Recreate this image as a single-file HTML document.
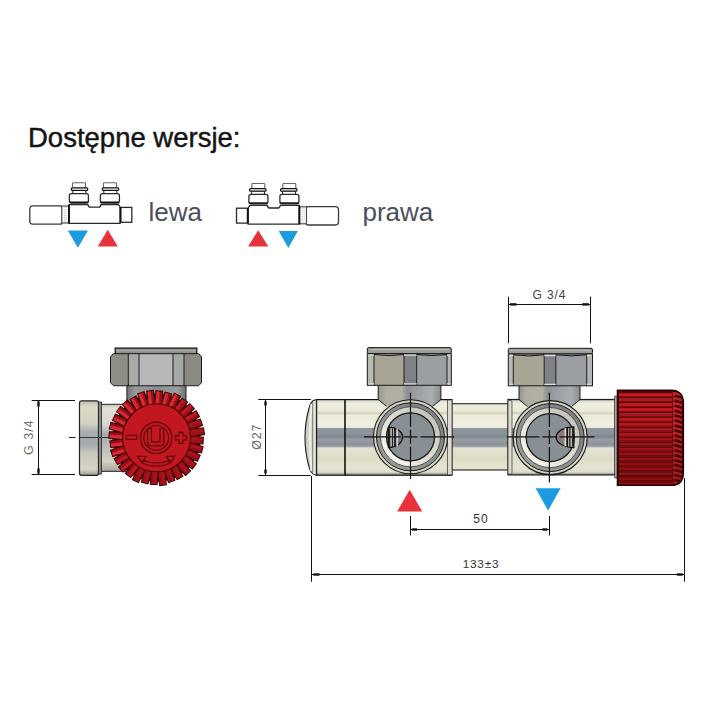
<!DOCTYPE html>
<html><head><meta charset="utf-8">
<style>
html,body{margin:0;padding:0;background:#fff;width:720px;height:720px;overflow:hidden}
svg{position:absolute;left:0;top:0}
text{font-family:"Liberation Sans",sans-serif}
</style></head><body>
<svg width="720" height="720" viewBox="0 0 720 720">
<defs>
<linearGradient id="chrome" gradientUnits="userSpaceOnUse" x1="0" y1="399.5" x2="0" y2="475.3">
  <stop offset="0" stop-color="#666"/>
  <stop offset="0.02" stop-color="#dcdcd2"/>
  <stop offset="0.05" stop-color="#eeeedc"/>
  <stop offset="0.15" stop-color="#ebeadb"/>
  <stop offset="0.18" stop-color="#d4d2bc"/>
  <stop offset="0.21" stop-color="#eceada"/>
  <stop offset="0.33" stop-color="#efeee0"/>
  <stop offset="0.37" stop-color="#e8e8de"/>
  <stop offset="0.376" stop-color="#8e979d"/>
  <stop offset="0.45" stop-color="#8a949a"/>
  <stop offset="0.49" stop-color="#7e878e"/>
  <stop offset="0.53" stop-color="#969ea4"/>
  <stop offset="0.6" stop-color="#8a9298"/>
  <stop offset="0.62" stop-color="#a4a8a8"/>
  <stop offset="0.64" stop-color="#e4e4d4"/>
  <stop offset="0.78" stop-color="#dddcc6"/>
  <stop offset="0.88" stop-color="#e6e4d0"/>
  <stop offset="0.96" stop-color="#dedcca"/>
  <stop offset="1" stop-color="#666"/>
</linearGradient>
<linearGradient id="chrome2" x1="0" y1="0" x2="0" y2="1">
  <stop offset="0" stop-color="#bdbcae"/>
  <stop offset="0.08" stop-color="#dcdac6"/>
  <stop offset="0.3" stop-color="#d4d2c0"/>
  <stop offset="0.42" stop-color="#a8adb0"/>
  <stop offset="0.58" stop-color="#a4a9ac"/>
  <stop offset="0.7" stop-color="#c8c7ba"/>
  <stop offset="0.92" stop-color="#d6d4c4"/>
  <stop offset="1" stop-color="#9a9a90"/>
</linearGradient>
<linearGradient id="nutg" x1="0" y1="0" x2="1" y2="0">
  <stop offset="0" stop-color="#b8b6a8"/>
  <stop offset="0.08" stop-color="#b8b6a8"/>
  <stop offset="0.081" stop-color="#a8a596"/>
  <stop offset="0.44" stop-color="#a4a294"/>
  <stop offset="0.45" stop-color="#6c7074"/>
  <stop offset="0.58" stop-color="#8a8e92"/>
  <stop offset="0.6" stop-color="#9ca0a4"/>
  <stop offset="0.92" stop-color="#979ba0"/>
  <stop offset="0.921" stop-color="#b4b6b8"/>
  <stop offset="1" stop-color="#b4b6b8"/>
</linearGradient>
<linearGradient id="neckg" x1="0" y1="0" x2="1" y2="0">
  <stop offset="0" stop-color="#96968c"/>
  <stop offset="0.12" stop-color="#b0aea2"/>
  <stop offset="0.38" stop-color="#b2b0a4"/>
  <stop offset="0.46" stop-color="#8c9094"/>
  <stop offset="0.6" stop-color="#9a9ea2"/>
  <stop offset="0.85" stop-color="#aaaeb0"/>
  <stop offset="1" stop-color="#8c8c8c"/>
</linearGradient>
<linearGradient id="neckdark" x1="0" y1="0" x2="1" y2="0">
  <stop offset="0" stop-color="#707274"/>
  <stop offset="0.15" stop-color="#9a9c9c"/>
  <stop offset="0.5" stop-color="#8a8c8e"/>
  <stop offset="0.85" stop-color="#9c9e9e"/>
  <stop offset="1" stop-color="#6c6e70"/>
</linearGradient>
<linearGradient id="pipeL" x1="0" y1="0" x2="0" y2="1">
  <stop offset="0" stop-color="#c8c6bc"/>
  <stop offset="0.06" stop-color="#e2e0d4"/>
  <stop offset="0.3" stop-color="#d8d8d0"/>
  <stop offset="0.45" stop-color="#a4a8aa"/>
  <stop offset="0.6" stop-color="#b8bab8"/>
  <stop offset="0.85" stop-color="#d4d2c6"/>
  <stop offset="1" stop-color="#a8a69c"/>
</linearGradient>
<linearGradient id="ringlight" x1="0.15" y1="0.85" x2="0.85" y2="0.15">
  <stop offset="0" stop-color="#f4f4ec"/>
  <stop offset="0.5" stop-color="#dcdcd0"/>
  <stop offset="1" stop-color="#c4c4b8"/>
</linearGradient>
<linearGradient id="ringgrey" x1="0.15" y1="0.85" x2="0.85" y2="0.15">
  <stop offset="0" stop-color="#9a9c9c"/>
  <stop offset="1" stop-color="#7e8082"/>
</linearGradient>
<linearGradient id="redg" x1="0" y1="0" x2="0" y2="1">
  <stop offset="0" stop-color="#8c0f12"/>
  <stop offset="0.2" stop-color="#c21a22"/>
  <stop offset="0.5" stop-color="#a8141a"/>
  <stop offset="0.8" stop-color="#b8181f"/>
  <stop offset="1" stop-color="#7a0c10"/>
</linearGradient>
</defs>

<text x="28" y="147" font-size="27.5" fill="#141414" stroke="#141414" stroke-width="0.45">Dostępne wersje:</text>
<text x="148.5" y="221" font-size="26" fill="#4a4e5a">lewa</text>
<text x="362.5" y="221" font-size="26" fill="#4a4e5a">prawa</text>
<g><path d="M60 205.8 H33 Q29.8 205.8 29.8 209 V221 Q29.8 224.2 33 224.2 H60 Q62.2 224.2 62.2 222 V208 Q62.2 205.8 60 205.8 Z" stroke="#3a3a3a" stroke-width="1.3" fill="#fff"/>
<rect x="61.8" y="206" width="6.8" height="17" stroke="#444" stroke-width="1.1" fill="#fff"/>
<line x1="64.2" y1="207" x2="64.2" y2="222" stroke="#aaa" stroke-width="0.8" stroke-dasharray="1 1"/>
<line x1="66.2" y1="207" x2="66.2" y2="222" stroke="#aaa" stroke-width="0.8" stroke-dasharray="1 1"/>
<path d="M69 204.6 H88 Q88.5 207.2 90 207.2 H99 Q100.5 207.2 100.8 204.6 H118.3 Q120.2 206 120.2 209 V223.3 H69 Z" stroke="#2a2a2a" stroke-width="1.3" fill="#fff"/>
<line x1="69" y1="205" x2="69" y2="223.3" stroke="#111" stroke-width="1.8"/>
<rect x="120.4" y="207.4" width="11.4" height="14.9" stroke="#2a2a2a" stroke-width="1.3" fill="#fff"/>
<line x1="120.6" y1="207.4" x2="120.6" y2="222.3" stroke="#111" stroke-width="1.8"/>
<rect x="72.5" y="182.7" width="13" height="5.6" rx="0.8" stroke="#666" stroke-width="1.1" fill="#fff"/>
<rect x="72.8" y="190" width="13" height="3.8" stroke="#333" stroke-width="1.1" fill="#fff"/>
<rect x="71.3" y="187.8" width="16.4" height="2.6" rx="1" stroke="#111" stroke-width="1.2" fill="#fff"/>
<rect x="69.4" y="193.6" width="19" height="9.4" rx="2" stroke="#2a2a2a" stroke-width="1.3" fill="#fff"/>
<line x1="70" y1="202.3" x2="88" y2="202.3" stroke="#111" stroke-width="1.6"/>
<rect x="103.5" y="182.7" width="13" height="5.6" rx="0.8" stroke="#666" stroke-width="1.1" fill="#fff"/>
<rect x="103.8" y="190" width="13" height="3.8" stroke="#333" stroke-width="1.1" fill="#fff"/>
<rect x="102.3" y="187.8" width="16.4" height="2.6" rx="1" stroke="#111" stroke-width="1.2" fill="#fff"/>
<rect x="100.4" y="193.6" width="19" height="9.4" rx="2" stroke="#2a2a2a" stroke-width="1.3" fill="#fff"/>
<line x1="101" y1="202.3" x2="119" y2="202.3" stroke="#111" stroke-width="1.6"/></g>
<g transform="translate(368.3,0.8) scale(-1,1)"><path d="M60 205.8 H33 Q29.8 205.8 29.8 209 V221 Q29.8 224.2 33 224.2 H60 Q62.2 224.2 62.2 222 V208 Q62.2 205.8 60 205.8 Z" stroke="#3a3a3a" stroke-width="1.3" fill="#fff"/>
<rect x="61.8" y="206" width="6.8" height="17" stroke="#444" stroke-width="1.1" fill="#fff"/>
<line x1="64.2" y1="207" x2="64.2" y2="222" stroke="#aaa" stroke-width="0.8" stroke-dasharray="1 1"/>
<line x1="66.2" y1="207" x2="66.2" y2="222" stroke="#aaa" stroke-width="0.8" stroke-dasharray="1 1"/>
<path d="M69 204.6 H88 Q88.5 207.2 90 207.2 H99 Q100.5 207.2 100.8 204.6 H118.3 Q120.2 206 120.2 209 V223.3 H69 Z" stroke="#2a2a2a" stroke-width="1.3" fill="#fff"/>
<line x1="69" y1="205" x2="69" y2="223.3" stroke="#111" stroke-width="1.8"/>
<rect x="120.4" y="207.4" width="11.4" height="14.9" stroke="#2a2a2a" stroke-width="1.3" fill="#fff"/>
<line x1="120.6" y1="207.4" x2="120.6" y2="222.3" stroke="#111" stroke-width="1.8"/>
<rect x="72.5" y="182.7" width="13" height="5.6" rx="0.8" stroke="#666" stroke-width="1.1" fill="#fff"/>
<rect x="72.8" y="190" width="13" height="3.8" stroke="#333" stroke-width="1.1" fill="#fff"/>
<rect x="71.3" y="187.8" width="16.4" height="2.6" rx="1" stroke="#111" stroke-width="1.2" fill="#fff"/>
<rect x="69.4" y="193.6" width="19" height="9.4" rx="2" stroke="#2a2a2a" stroke-width="1.3" fill="#fff"/>
<line x1="70" y1="202.3" x2="88" y2="202.3" stroke="#111" stroke-width="1.6"/>
<rect x="103.5" y="182.7" width="13" height="5.6" rx="0.8" stroke="#666" stroke-width="1.1" fill="#fff"/>
<rect x="103.8" y="190" width="13" height="3.8" stroke="#333" stroke-width="1.1" fill="#fff"/>
<rect x="102.3" y="187.8" width="16.4" height="2.6" rx="1" stroke="#111" stroke-width="1.2" fill="#fff"/>
<rect x="100.4" y="193.6" width="19" height="9.4" rx="2" stroke="#2a2a2a" stroke-width="1.3" fill="#fff"/>
<line x1="101" y1="202.3" x2="119" y2="202.3" stroke="#111" stroke-width="1.6"/></g>
<polygon points="67.8,230.5 88,230.5 77.9,247.8" fill="#1d9be0"/>
<polygon points="97.8,246.4 117.8,246.4 107.8,229.7" fill="#e8323c"/>
<polygon points="248.1,246.4 268.3,246.4 258.2,230.2" fill="#e8323c"/>
<polygon points="278.7,231.1 297.9,231.1 288.29999999999995,248" fill="#1d9be0"/>
<rect x="126.9" y="384" width="59.1" height="22" fill="url(#neckdark)" stroke="#222" stroke-width="1"/>
<rect x="115.2" y="348.1" width="81.6" height="6.599999999999966" fill="#8e8e8a" stroke="#1a1a1a" stroke-width="1.3"/>
<line x1="116.0" y1="350.6" x2="196.0" y2="350.6" stroke="#a8a8a4" stroke-width="1.5"/>
<clipPath id="nc110"><polygon points="113.5,353.7 198.5,353.7 201.5,356.7 201.5,382.75 198.5,385.75 113.5,385.75 110.5,382.75 110.5,356.7"/></clipPath>
<g clip-path="url(#nc110)">
<rect x="110.5" y="353.7" width="17.80000000000001" height="32.05000000000001" fill="#8e8e86"/>
<rect x="128.3" y="353.7" width="10.699999999999989" height="32.05000000000001" fill="#a9aba9"/>
<rect x="139" y="353.7" width="34" height="32.05000000000001" fill="#b6b8ba"/>
<rect x="173" y="353.7" width="11" height="32.05000000000001" fill="#a6a8a8"/>
<rect x="184" y="353.7" width="17.5" height="32.05000000000001" fill="#8a8a82"/>
</g>
<polygon points="113.5,353.7 198.5,353.7 201.5,356.7 201.5,382.75 198.5,385.75 113.5,385.75 110.5,382.75 110.5,356.7" fill="none" stroke="#1a1a1a" stroke-width="1"/>
<line x1="128.3" y1="353.7" x2="128.3" y2="385.75" stroke="#1a1a1a" stroke-width="1"/>
<line x1="139" y1="353.7" x2="139" y2="385.75" stroke="#1a1a1a" stroke-width="1"/>
<line x1="173" y1="353.7" x2="173" y2="385.75" stroke="#1a1a1a" stroke-width="1"/>
<line x1="184" y1="353.7" x2="184" y2="385.75" stroke="#1a1a1a" stroke-width="1"/>
<rect x="100" y="404.3" width="30" height="67" fill="url(#pipeL)" stroke="#222" stroke-width="1"/>
<rect x="79.5" y="400.9" width="19" height="74.4" rx="2" fill="url(#chrome2)" stroke="#222" stroke-width="1.2"/>
<rect x="98.5" y="402" width="3" height="72" fill="#8a8a84" stroke="#222" stroke-width="0.8"/>
<line x1="69" y1="437.5" x2="75.5" y2="437.5" stroke="#222" stroke-width="1"/>
<line x1="80" y1="437.5" x2="125" y2="437.5" stroke="#333" stroke-width="1"/>
<circle cx="156.5" cy="437.8" r="44" fill="#3a0304"/>
<polygon points="187.22,443.52 202.95,443.86 203.34,437.24 187.68,435.73" fill="#9c0e14" stroke="#3a0304" stroke-width="1.1"/>
<polygon points="189.42,440.13 202.63,440.91 202.81,437.80 189.63,436.63" fill="#a8121a"/>
<polygon points="185.51,449.40 201.41,452.95 203.08,446.53 187.48,441.85" fill="#9c0e14" stroke="#3a0304" stroke-width="1.1"/>
<polygon points="188.33,446.51 201.67,449.99 202.45,446.97 189.22,443.11" fill="#a8121a"/>
<polygon points="182.69,454.84 197.31,461.28 200.20,455.31 186.09,447.82" fill="#9c0e14" stroke="#3a0304" stroke-width="1.1"/>
<polygon points="186.02,452.55 198.14,458.43 199.50,455.62 187.55,449.39" fill="#a8121a"/>
<polygon points="178.86,459.62 192.28,469.04 196.28,463.76 183.57,453.40" fill="#9c0e14" stroke="#3a0304" stroke-width="1.1"/>
<polygon points="182.58,458.03 193.65,466.41 195.53,463.92 184.69,455.23" fill="#a8121a"/>
<polygon points="174.18,463.56 185.53,475.45 190.48,471.05 180.01,458.38" fill="#9c0e14" stroke="#3a0304" stroke-width="1.1"/>
<polygon points="178.13,462.73 187.38,473.14 189.71,471.06 180.75,460.40" fill="#a8121a"/>
<polygon points="168.81,466.52 177.11,479.52 182.83,476.17 175.54,462.57" fill="#9c0e14" stroke="#3a0304" stroke-width="1.1"/>
<polygon points="172.85,466.47 179.38,477.61 182.07,476.03 175.88,464.69" fill="#a8121a"/>
<polygon points="162.97,468.37 168.55,482.65 174.81,480.48 170.34,465.81" fill="#9c0e14" stroke="#3a0304" stroke-width="1.1"/>
<polygon points="166.94,469.11 171.14,481.22 174.09,480.20 170.26,467.96" fill="#a8121a"/>
<polygon points="156.88,469.04 159.77,485.61 166.33,484.70 164.61,467.97" fill="#9c0e14" stroke="#3a0304" stroke-width="1.1"/>
<polygon points="160.64,470.54 162.60,484.71 165.69,484.29 164.11,470.06" fill="#a8121a"/>
<polygon points="150.78,468.52 150.44,484.29 157.06,484.68 158.57,468.98" fill="#9c0e14" stroke="#3a0304" stroke-width="1.1"/>
<polygon points="154.17,470.72 153.39,483.96 156.50,484.15 157.67,470.93" fill="#a8121a"/>
<polygon points="144.90,466.81 141.50,482.17 147.91,483.84 152.45,468.78" fill="#9c0e14" stroke="#3a0304" stroke-width="1.1"/>
<polygon points="147.79,469.63 144.45,482.43 147.47,483.21 151.19,470.52" fill="#a8121a"/>
<polygon points="139.46,463.99 132.53,479.62 138.49,482.52 146.48,467.39" fill="#9c0e14" stroke="#3a0304" stroke-width="1.1"/>
<polygon points="141.75,467.32 135.38,480.45 138.19,481.81 144.91,468.85" fill="#a8121a"/>
<polygon points="134.68,460.16 125.40,473.39 130.69,477.39 140.90,464.87" fill="#9c0e14" stroke="#3a0304" stroke-width="1.1"/>
<polygon points="136.27,463.88 128.04,474.76 130.52,476.64 139.07,465.99" fill="#bc1a22"/>
<polygon points="130.74,455.48 118.56,467.08 122.97,472.03 135.92,461.31" fill="#9c0e14" stroke="#3a0304" stroke-width="1.1"/>
<polygon points="131.57,459.43 120.88,468.93 122.95,471.26 133.90,462.05" fill="#bc1a22"/>
<polygon points="127.78,450.11 114.14,458.79 117.49,464.51 131.73,456.84" fill="#9c0e14" stroke="#3a0304" stroke-width="1.1"/>
<polygon points="127.83,454.15 116.05,461.06 117.63,463.75 129.61,457.18" fill="#bc1a22"/>
<polygon points="125.93,444.27 110.58,450.21 112.75,456.48 128.49,451.64" fill="#9c0e14" stroke="#3a0304" stroke-width="1.1"/>
<polygon points="125.19,448.24 112.01,452.81 113.04,455.76 126.34,451.56" fill="#d42a32"/>
<polygon points="125.26,438.18 109.91,440.90 110.82,447.46 126.33,445.91" fill="#9c0e14" stroke="#3a0304" stroke-width="1.1"/>
<polygon points="123.76,441.94 110.81,443.73 111.24,446.82 124.24,445.41" fill="#d42a32"/>
<polygon points="125.78,432.08 109.33,431.70 108.94,438.32 125.32,439.87" fill="#9c0e14" stroke="#3a0304" stroke-width="1.1"/>
<polygon points="123.58,435.47 109.66,434.65 109.48,437.76 123.37,438.97" fill="#d42a32"/>
<polygon points="127.49,426.20 111.03,422.51 109.35,428.92 125.52,433.75" fill="#9c0e14" stroke="#3a0304" stroke-width="1.1"/>
<polygon points="124.67,429.09 110.77,425.46 109.98,428.48 123.78,432.49" fill="#d42a32"/>
<polygon points="130.31,420.76 115.44,414.20 112.55,420.17 126.91,427.78" fill="#9c0e14" stroke="#3a0304" stroke-width="1.1"/>
<polygon points="126.98,423.05 114.61,417.05 113.25,419.86 125.45,426.21" fill="#d42a32"/>
<polygon points="134.14,415.98 120.52,406.41 116.52,411.69 129.43,422.20" fill="#9c0e14" stroke="#3a0304" stroke-width="1.1"/>
<polygon points="130.42,417.57 119.15,409.04 117.27,411.53 128.31,420.37" fill="#d42a32"/>
<polygon points="138.82,412.04 127.42,400.08 122.46,404.49 132.99,417.22" fill="#9c0e14" stroke="#3a0304" stroke-width="1.1"/>
<polygon points="134.87,412.87 125.57,402.40 123.23,404.47 132.25,415.20" fill="#d42a32"/>
<polygon points="144.19,409.08 135.89,396.08 130.17,399.43 137.46,413.03" fill="#9c0e14" stroke="#3a0304" stroke-width="1.1"/>
<polygon points="140.15,409.13 133.62,397.99 130.93,399.57 137.12,410.91" fill="#d42a32"/>
<polygon points="150.03,407.23 144.02,391.68 137.75,393.85 142.66,409.79" fill="#9c0e14" stroke="#3a0304" stroke-width="1.1"/>
<polygon points="146.06,406.49 141.42,393.11 138.47,394.13 142.74,407.64" fill="#d42a32"/>
<polygon points="156.12,406.56 153.29,390.43 146.73,391.34 148.39,407.63" fill="#9c0e14" stroke="#3a0304" stroke-width="1.1"/>
<polygon points="152.36,405.06 150.47,391.32 147.37,391.75 148.89,405.54" fill="#d42a32"/>
<polygon points="162.22,407.08 162.57,391.23 155.95,390.84 154.43,406.62" fill="#9c0e14" stroke="#3a0304" stroke-width="1.1"/>
<polygon points="158.83,404.88 159.62,391.56 156.50,391.38 155.33,404.67" fill="#d42a32"/>
<polygon points="168.10,408.79 171.41,393.78 165.00,392.11 160.55,406.82" fill="#9c0e14" stroke="#3a0304" stroke-width="1.1"/>
<polygon points="165.21,405.97 168.46,393.53 165.44,392.74 161.81,405.08" fill="#d42a32"/>
<polygon points="173.54,411.61 180.37,396.19 174.40,393.29 166.52,408.21" fill="#9c0e14" stroke="#3a0304" stroke-width="1.1"/>
<polygon points="171.25,408.28 177.52,395.36 174.71,394.00 168.09,406.75" fill="#d42a32"/>
<polygon points="178.32,415.44 187.60,402.21 182.32,398.20 172.10,410.73" fill="#9c0e14" stroke="#3a0304" stroke-width="1.1"/>
<polygon points="176.73,411.72 184.97,400.84 182.48,398.96 173.93,409.61" fill="#bc1a22"/>
<polygon points="182.26,420.12 194.28,408.66 189.87,403.71 177.08,414.29" fill="#9c0e14" stroke="#3a0304" stroke-width="1.1"/>
<polygon points="181.43,416.17 191.96,406.81 189.89,404.48 179.10,413.55" fill="#bc1a22"/>
<polygon points="185.22,425.49 199.49,416.45 196.13,410.73 181.27,418.76" fill="#9c0e14" stroke="#3a0304" stroke-width="1.1"/>
<polygon points="185.17,421.45 197.58,414.18 196.00,411.49 183.39,418.42" fill="#bc1a22"/>
<polygon points="187.07,431.33 202.55,425.34 200.37,419.08 184.51,423.96" fill="#9c0e14" stroke="#3a0304" stroke-width="1.1"/>
<polygon points="187.81,427.36 201.11,422.74 200.09,419.79 186.66,424.04" fill="#a8121a"/>
<polygon points="187.74,437.42 204.46,434.51 203.55,427.95 186.67,429.69" fill="#9c0e14" stroke="#3a0304" stroke-width="1.1"/>
<polygon points="189.24,433.66 203.56,431.68 203.14,428.59 188.76,430.19" fill="#a8121a"/>
<circle cx="156.5" cy="437.8" r="34" fill="#c2171e" stroke="#4a0406" stroke-width="1.1"/>
<circle cx="156.2" cy="437.9" r="15.7" fill="none" stroke="#5a0709" stroke-width="1.2"/>
<circle cx="156.2" cy="437.9" r="12.4" fill="none" stroke="#5a0709" stroke-width="1.1"/>
<path d="M147.6 428.5 H151.5 V441.8 H160 V428.5 H163.8 V443 Q163.8 445.7 161 445.7 H150.4 Q147.6 445.7 147.6 443 Z" fill="none" stroke="#5a0709" stroke-width="1.2"/>
<path d="M126.3 435.3 H136.7 V439.5 H126.3 Z" fill="none" stroke="#5a0709" stroke-width="1.1"/>
<path d="M179 432.4 H183 V435.9 H186.5 V439.9 H183 V443.4 H179 V439.9 H175.5 V435.9 H179 Z" fill="none" stroke="#5a0709" stroke-width="1.1"/>
<path d="M142 460 Q156 466 170.5 460 M137.5 456 L146 456.5 L142 463 Z M175 456 L166.5 456.5 L170.5 463 Z M143 463.5 Q156 469 169.5 463.5" fill="none" stroke="#5a0709" stroke-width="1.1"/>
<path d="M31.7 400.5 H75 M31.7 474.5 H75 M38.5 400.5 V474.5" stroke="#111" stroke-width="1" fill="none"/>
<rect x="37.3" y="401.5" width="2.4" height="5" fill="#111"/><rect x="37.3" y="468.5" width="2.4" height="5" fill="#111"/>
<text transform="translate(33,437.1) rotate(-90)" text-anchor="middle" font-size="12.5" letter-spacing="1" fill="#707070">G 3/4</text>
<path d="M258.3 399.5 H310.8 M258.3 475.5 H310.8 M265.5 399.5 V475.5" stroke="#111" stroke-width="1" fill="none"/>
<rect x="264.3" y="401.5" width="2.4" height="4" fill="#111"/><rect x="264.3" y="469.5" width="2.4" height="4" fill="#111"/>
<text transform="translate(261.2,436.7) rotate(-90)" text-anchor="middle" font-size="12.5" letter-spacing="0.8" fill="#666">Ø27</text>
<path d="M311.5 476 V581.7 M684.5 478 V581.7 M311.5 574.5 H684.5" stroke="#111" stroke-width="1" fill="none"/>
<text x="481" y="567.7" text-anchor="middle" font-size="11.8" letter-spacing="0.8" fill="#333">133±3</text>
<path d="M410.5 516 V535.5 M549.5 516 V535.5 M410.5 529.5 H549.5" stroke="#111" stroke-width="1" fill="none"/>
<text x="481" y="523" text-anchor="middle" font-size="12" letter-spacing="1.2" fill="#333">50</text>
<path d="M508.5 296.7 V343.3 M590.5 296.7 V343.3 M508.5 304.5 H590.5" stroke="#111" stroke-width="1" fill="none"/>
<rect x="510" y="303.2" width="6.5" height="2.4" fill="#111"/><rect x="582.3" y="303.2" width="6.5" height="2.4" fill="#111"/>
<rect x="412" y="528.3" width="5" height="2.4" fill="#111"/><rect x="542.4" y="528.3" width="5" height="2.4" fill="#111"/>
<rect x="313.5" y="573.3" width="6" height="2.4" fill="#111"/><rect x="676.8" y="573.3" width="6" height="2.4" fill="#111"/>
<text x="549.5" y="299" text-anchor="middle" font-size="12" letter-spacing="0.9" fill="#444">G 3/4</text>
<rect x="450" y="403.75" width="60" height="66.25" fill="url(#chrome)" stroke="#111" stroke-width="1"/>
<path d="M316.7 399.5 L314 400.3 Q310.5 401.5 308.8 409 Q305 423 305 437.4 Q305 452 308.8 466 Q310.5 473.3 314 474.5 L316.7 475.3 Z" fill="#d0d0c4" stroke="#1a1a1a" stroke-width="1.1"/>
<path d="M311.5 404 Q310 420 310 437.4 Q310 455 311.5 471" stroke="#eeeee4" stroke-width="2.2" fill="none"/>
<path d="M313 402 V473" stroke="#333" stroke-width="0.9" fill="none"/>
<path d="M314 401 V474" stroke="#e4e4da" stroke-width="1.6" fill="none"/>
<rect x="316.7" y="399.5" width="135.3" height="75.8" fill="url(#chrome)" stroke="#111" stroke-width="1"/>
<rect x="447.5" y="400" width="4.5" height="74.8" fill="#dedcd0" stroke="#333" stroke-width="0.7"/>
<line x1="345" y1="399.5" x2="345" y2="475.3" stroke="#111" stroke-width="1.6"/>
<rect x="507.9" y="399.4" width="107.3" height="75.6" fill="url(#chrome)" stroke="#111" stroke-width="1"/>
<rect x="508" y="400.5" width="4" height="73.5" rx="1.5" fill="#dcdacc" stroke="#333" stroke-width="0.7"/>
<path d="M378.2 384 H440.9 V399.5 L432.4 406.5 H386.7 L378.2 399.5 Z" fill="url(#neckg)"/>
<path d="M378.2 384 V399.5 L386.7 406.5 M440.9 384 V399.5 L432.4 406.5" stroke="#1a1a1a" stroke-width="1" fill="none"/>
<path d="M519 384.5 H580 V399.5 L571.5 406.5 H527.5 L519 399.5 Z" fill="url(#neckg)"/>
<path d="M519 384.5 V399.5 L527.5 406.5 M580 384.5 V399.5 L571.5 406.5" stroke="#1a1a1a" stroke-width="1" fill="none"/>
<rect x="367.3" y="347.6" width="84.0" height="6.099999999999966" rx="1.5" fill="#9a9a96" stroke="#1a1a1a" stroke-width="1"/>
<line x1="369.3" y1="349.8" x2="449.3" y2="349.8" stroke="#b2b2ae" stroke-width="1.6"/>
<rect x="367.3" y="353.7" width="6.699999999999989" height="31.600000000000023" fill="#b9b9ae"/>
<rect x="374" y="353.7" width="30" height="31.600000000000023" fill="#a8a595"/>
<rect x="404" y="353.7" width="12.699999999999989" height="31.600000000000023" fill="#7e8286"/>
<rect x="416.7" y="353.7" width="30.30000000000001" height="31.600000000000023" fill="#9b9fa3"/>
<rect x="447" y="353.7" width="4.300000000000011" height="31.600000000000023" fill="#b5b7b7"/>
<rect x="367.3" y="353.7" width="84.0" height="31.600000000000023" fill="none" stroke="#1a1a1a" stroke-width="1"/>
<line x1="374" y1="353.7" x2="374" y2="385.3" stroke="#1a1a1a" stroke-width="1"/>
<line x1="404" y1="353.7" x2="404" y2="385.3" stroke="#1a1a1a" stroke-width="1"/>
<line x1="416.7" y1="353.7" x2="416.7" y2="385.3" stroke="#1a1a1a" stroke-width="1"/>
<line x1="447" y1="353.7" x2="447" y2="385.3" stroke="#1a1a1a" stroke-width="1"/>
<path d="M368.3 355.2 H374 M404 355.2 H416.7 M447 355.2 H450.3 M368.3 383.8 H374 M404 383.8 H416.7 M447 383.8 H450.3" stroke="#dcdcd8" stroke-width="1.3"/>
<path d="M374 354.5 Q389.0 356.7 404 354.5 M416.7 354.5 Q431.85 356.7 447 354.5" stroke="#1a1a1a" stroke-width="1" fill="none"/>
<rect x="508.3" y="348.3" width="84.19999999999999" height="5.699999999999989" rx="1.5" fill="#9a9a96" stroke="#1a1a1a" stroke-width="1"/>
<line x1="510.3" y1="350.5" x2="590.5" y2="350.5" stroke="#b2b2ae" stroke-width="1.6"/>
<rect x="508.3" y="354" width="4.999999999999943" height="31.80000000000001" fill="#b9b9ae"/>
<rect x="513.3" y="354" width="30.90000000000009" height="31.80000000000001" fill="#a8a595"/>
<rect x="544.2" y="354" width="11.599999999999909" height="31.80000000000001" fill="#7e8286"/>
<rect x="555.8" y="354" width="30.90000000000009" height="31.80000000000001" fill="#9b9fa3"/>
<rect x="586.7" y="354" width="5.7999999999999545" height="31.80000000000001" fill="#b5b7b7"/>
<rect x="508.3" y="354" width="84.19999999999999" height="31.80000000000001" fill="none" stroke="#1a1a1a" stroke-width="1"/>
<line x1="513.3" y1="354" x2="513.3" y2="385.8" stroke="#1a1a1a" stroke-width="1"/>
<line x1="544.2" y1="354" x2="544.2" y2="385.8" stroke="#1a1a1a" stroke-width="1"/>
<line x1="555.8" y1="354" x2="555.8" y2="385.8" stroke="#1a1a1a" stroke-width="1"/>
<line x1="586.7" y1="354" x2="586.7" y2="385.8" stroke="#1a1a1a" stroke-width="1"/>
<path d="M509.3 355.5 H513.3 M544.2 355.5 H555.8 M586.7 355.5 H591.5 M509.3 384.3 H513.3 M544.2 384.3 H555.8 M586.7 384.3 H591.5" stroke="#dcdcd8" stroke-width="1.3"/>
<path d="M513.3 354.8 Q528.75 357 544.2 354.8 M555.8 354.8 Q571.25 357 586.7 354.8" stroke="#1a1a1a" stroke-width="1" fill="none"/>
<circle cx="410.5" cy="436.8" r="37.0" fill="#d6d4c4" stroke="#1a1a1a" stroke-width="1.1"/>
<circle cx="410.5" cy="436.8" r="34.0" fill="url(#ringgrey)" stroke="#1a1a1a" stroke-width="1"/>
<circle cx="410.5" cy="436.8" r="30.0" fill="url(#ringlight)" stroke="#3a3a3a" stroke-width="0.8"/>
<circle cx="410.5" cy="436.8" r="24.0" fill="#899095" stroke="#1a1a1a" stroke-width="1.3"/>
<circle cx="550.2" cy="437.6" r="37.0" fill="#d6d4c4" stroke="#1a1a1a" stroke-width="1.1"/>
<circle cx="550.2" cy="437.6" r="34.0" fill="url(#ringgrey)" stroke="#1a1a1a" stroke-width="1"/>
<circle cx="550.2" cy="437.6" r="30.0" fill="url(#ringlight)" stroke="#3a3a3a" stroke-width="0.8"/>
<circle cx="550.2" cy="437.6" r="24.0" fill="#899095" stroke="#1a1a1a" stroke-width="1.3"/>
<path d="M388.5 427.1 A14.100000000000023 10.2 0 0 1 388.5 447.5 Z" fill="#7a7a78" stroke="#111" stroke-width="1.3"/>
<line x1="389.7" y1="428.3" x2="389.7" y2="446.3" stroke="#222" stroke-width="1.0"/>
<line x1="391.1" y1="428.3" x2="391.1" y2="446.3" stroke="#d8d8d8" stroke-width="0.9"/>
<line x1="392.5" y1="428.3" x2="392.5" y2="446.3" stroke="#222" stroke-width="1.0"/>
<line x1="393.8" y1="428.3" x2="393.8" y2="446.3" stroke="#c8c8c8" stroke-width="0.9"/>
<line x1="395.0" y1="428.3" x2="395.0" y2="446.3" stroke="#111" stroke-width="1.6"/>
<line x1="397.1" y1="428.3" x2="397.1" y2="446.3" stroke="#e0e0e0" stroke-width="1.4"/>
<path d="M573.8 426.9 A17.59999999999991 10.3 0 0 0 573.8 447.5 Z" fill="#8a7c78" stroke="#111" stroke-width="1.3"/>
<line x1="572.5999999999999" y1="428.09999999999997" x2="572.5999999999999" y2="446.3" stroke="#222" stroke-width="1.0"/>
<line x1="571.1999999999999" y1="428.09999999999997" x2="571.1999999999999" y2="446.3" stroke="#d8d8d8" stroke-width="0.9"/>
<line x1="569.8" y1="428.09999999999997" x2="569.8" y2="446.3" stroke="#222" stroke-width="1.0"/>
<line x1="568.5" y1="428.09999999999997" x2="568.5" y2="446.3" stroke="#c8c8c8" stroke-width="0.9"/>
<line x1="567.3" y1="428.09999999999997" x2="567.3" y2="446.3" stroke="#111" stroke-width="1.6"/>
<line x1="565.1999999999999" y1="428.09999999999997" x2="565.1999999999999" y2="446.3" stroke="#e0e0e0" stroke-width="1.4"/>
<path d="M364 436.8 H400.5 M403.5 436.8 H417.5 M420.5 436.8 H454.2 M410.5 392.8 V426.8 M410.5 429.8 V443.8 M410.5 446.8 V479" stroke="#111" stroke-width="1.2" fill="none"/>
<path d="M507 436.9 H539.4 M542.4 436.9 H556.4 M559.4 436.9 H594.5 M549.4 392.8 V426.9 M549.4 429.9 V443.9 M549.4 446.9 V482.4" stroke="#111" stroke-width="1.2" fill="none"/>
<rect x="614.7" y="396" width="3" height="82" fill="#a4a6a6" stroke="#222" stroke-width="0.6"/>
<clipPath id="knobR"><path d="M617.5 390.3 H671 Q683.3 390.3 683.3 403 V472.5 Q683.3 485.3 671 485.3 H617.5 Z"/></clipPath>
<g clip-path="url(#knobR)">
<rect x="615" y="388" width="70" height="100" fill="#4a0507"/>
<rect x="619" y="393.20" width="56" height="2.9" fill="#c81a20"/>
<rect x="619" y="396.50" width="56" height="0.9" fill="#a21419"/>
<path d="M672 393.20 Q679 393.70 682 395.70" stroke="#cf252c" stroke-width="2.2" fill="none"/>
<rect x="619" y="398.15" width="56" height="2.9" fill="#a41d22"/>
<rect x="619" y="401.45" width="56" height="0.9" fill="#a01418"/>
<path d="M672 398.15 Q679 398.65 682 400.65" stroke="#b6282d" stroke-width="2.2" fill="none"/>
<rect x="619" y="403.10" width="56" height="2.9" fill="#c4191f"/>
<rect x="619" y="406.40" width="56" height="0.9" fill="#9f1418"/>
<path d="M672 403.10 Q679 403.60 682 405.60" stroke="#cc252b" stroke-width="2.2" fill="none"/>
<rect x="619" y="408.05" width="56" height="2.9" fill="#c2181e"/>
<rect x="619" y="411.35" width="56" height="0.9" fill="#9e1318"/>
<path d="M672 408.05 Q679 408.55 682 410.55" stroke="#cb242b" stroke-width="2.2" fill="none"/>
<rect x="619" y="413.00" width="56" height="2.9" fill="#a01c22"/>
<rect x="619" y="416.30" width="56" height="0.9" fill="#9c1318"/>
<path d="M672 413.00 Q679 413.50 682 415.50" stroke="#b3272d" stroke-width="2.2" fill="none"/>
<rect x="619" y="417.95" width="56" height="2.9" fill="#be171d"/>
<rect x="619" y="421.25" width="56" height="0.9" fill="#9b1217"/>
<path d="M672 417.95 Q679 418.45 682 420.45" stroke="#c8232a" stroke-width="2.2" fill="none"/>
<rect x="619" y="422.90" width="56" height="2.9" fill="#bc161c"/>
<rect x="619" y="426.20" width="56" height="0.9" fill="#9a1216"/>
<path d="M672 422.90 Q679 423.40 682 425.40" stroke="#c72329" stroke-width="2.2" fill="none"/>
<rect x="619" y="427.85" width="56" height="2.9" fill="#9d1b20"/>
<rect x="619" y="431.15" width="56" height="0.9" fill="#981216"/>
<path d="M672 427.85 Q679 428.35 682 430.35" stroke="#b1262c" stroke-width="2.2" fill="none"/>
<rect x="619" y="432.80" width="56" height="2.9" fill="#b8151b"/>
<rect x="619" y="436.10" width="56" height="0.9" fill="#971116"/>
<path d="M672 432.80 Q679 433.30 682 435.30" stroke="#c42228" stroke-width="2.2" fill="none"/>
<rect x="619" y="437.75" width="56" height="2.9" fill="#a51217"/>
<rect x="619" y="441.05" width="56" height="0.9" fill="#8b0f13"/>
<path d="M672 437.75 Q679 438.25 682 440.25" stroke="#b72026" stroke-width="2.2" fill="none"/>
<rect x="619" y="442.70" width="56" height="2.9" fill="#90191e"/>
<rect x="619" y="446.00" width="56" height="0.9" fill="#890f13"/>
<path d="M672 442.70 Q679 443.20 682 445.20" stroke="#a8252b" stroke-width="2.2" fill="none"/>
<rect x="619" y="447.65" width="56" height="2.9" fill="#9f1116"/>
<rect x="619" y="450.95" width="56" height="0.9" fill="#870f12"/>
<path d="M672 447.65 Q679 448.15 682 450.15" stroke="#b21f25" stroke-width="2.2" fill="none"/>
<rect x="619" y="452.60" width="56" height="2.9" fill="#9c1016"/>
<rect x="619" y="455.90" width="56" height="0.9" fill="#850e12"/>
<path d="M672 452.60 Q679 453.10 682 455.10" stroke="#b01e25" stroke-width="2.2" fill="none"/>
<rect x="619" y="457.55" width="56" height="2.9" fill="#8b181d"/>
<rect x="619" y="460.85" width="56" height="0.9" fill="#830e12"/>
<path d="M672 457.55 Q679 458.05 682 460.05" stroke="#a4242a" stroke-width="2.2" fill="none"/>
<rect x="619" y="462.50" width="56" height="2.9" fill="#960f14"/>
<rect x="619" y="465.80" width="56" height="0.9" fill="#810d11"/>
<path d="M672 462.50 Q679 463.00 682 465.00" stroke="#ac1e24" stroke-width="2.2" fill="none"/>
<rect x="619" y="467.45" width="56" height="2.9" fill="#930f14"/>
<rect x="619" y="470.75" width="56" height="0.9" fill="#7f0d11"/>
<path d="M672 467.45 Q679 467.95 682 469.95" stroke="#aa1e24" stroke-width="2.2" fill="none"/>
<rect x="619" y="472.40" width="56" height="2.9" fill="#86171c"/>
<rect x="619" y="475.70" width="56" height="0.9" fill="#7d0d11"/>
<path d="M672 472.40 Q679 472.90 682 474.90" stroke="#a12329" stroke-width="2.2" fill="none"/>
<rect x="619" y="477.35" width="56" height="2.9" fill="#8d0e13"/>
<rect x="619" y="480.65" width="56" height="0.9" fill="#7b0d11"/>
<path d="M672 477.35 Q679 477.85 682 479.85" stroke="#a61d23" stroke-width="2.2" fill="none"/>
<rect x="619" y="482.30" width="56" height="2.9" fill="#8a0d12"/>
<rect x="619" y="485.60" width="56" height="0.9" fill="#790c10"/>
<path d="M672 482.30 Q679 482.80 682 484.80" stroke="#a41c22" stroke-width="2.2" fill="none"/>
</g>
<path d="M617.5 390.3 H671 Q683.3 390.3 683.3 403 V472.5 Q683.3 485.3 671 485.3 H617.5 Z" fill="none" stroke="#2a0304" stroke-width="1.6"/>
<line x1="672.5" y1="392" x2="672.5" y2="484" stroke="#5a0709" stroke-width="0.8"/>
<polygon points="397.2,511.4 422.2,511.4 409.7,489.7" fill="#e8323c"/>
<polygon points="535.6,488.3 560.6,488.3 548.1,510.6" fill="#1d9be0"/>
</svg>
</body></html>
